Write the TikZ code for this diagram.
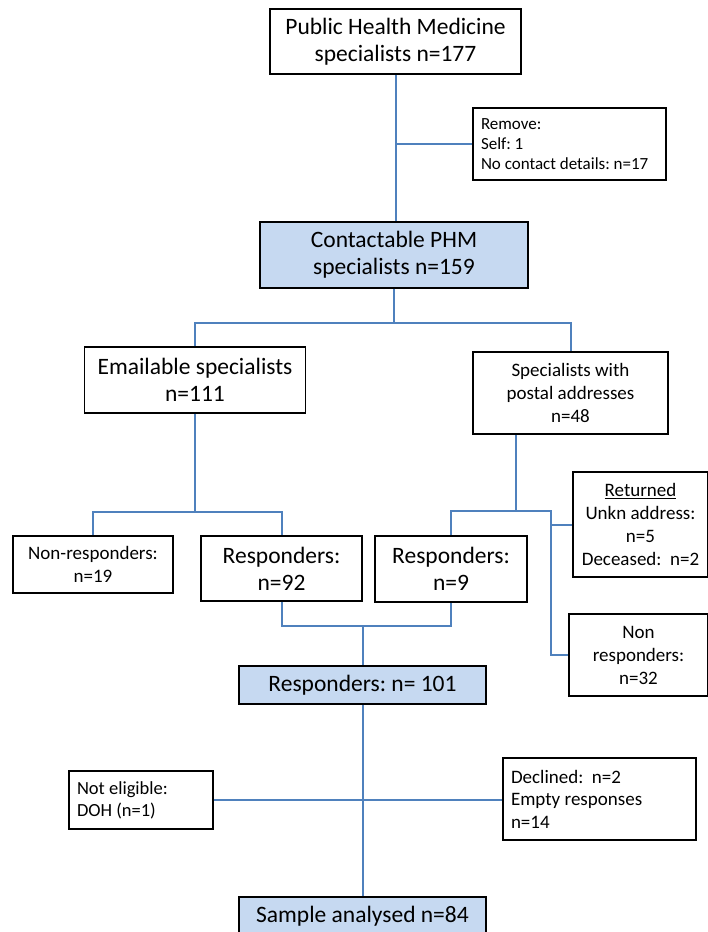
\documentclass[tikz,border=0pt]{standalone}
\usepackage{fontspec}
\setmainfont{Carlito}
\usetikzlibrary{positioning}

\definecolor{phmfill}{HTML}{C6D9F1}
\definecolor{linkblue}{HTML}{4F81BD}

\tikzset{
  box/.style={draw=black, line width=1.8pt, inner sep=0pt, align=center,
    font=\fontsize{23.5}{27}\selectfont},
  bluebox/.style={box, fill=phmfill},
  midbox/.style={box, font=\fontsize{19}{23}\selectfont},
  leftbox/.style={box, align=flush left, inner xsep=8pt},
  link/.style={draw=linkblue, line width=2pt}
}

\begin{document}
\frenchspacing
\begin{tikzpicture}[x=1pt,y=-1pt]
  \useasboundingbox (0,0) rectangle (708,932);
  \clip (0,0) rectangle (708,932);

  % sampling frame
  \node[box, minimum width=251pt, minimum height=65pt] (phm) at (395.5,41.5)
    {Public Health Medicine\\specialists n=177};
  \node[leftbox, text width=177pt, minimum height=72pt,
    font=\fontsize{17}{20}\selectfont] (rem) at (569.5,144)
    {Remove:\\Self: 1\\No contact details: n=17};
  \node[bluebox, minimum width=268pt, minimum height=66pt] (cont) at (394,255)
    {Contactable PHM\\specialists n=159};

  % two survey routes
  \node[box, minimum width=221pt, minimum height=66pt] (email) at (195,380)
    {Emailable specialists\\n=111};
  \node[midbox, minimum width=195pt, minimum height=82pt] (postal) at (570.5,393)
    {Specialists with\\postal addresses\\n=48};

  \node[midbox, minimum width=160pt, minimum height=57pt] (nonr19) at (93,564.5)
    {Non-responders:\\n=19};
  \node[box, minimum width=161pt, minimum height=65pt] (r92) at (281.5,568.5)
    {Responders:\\n=92};
  \node[box, minimum width=152pt, minimum height=66pt] (r9) at (451,569)
    {Responders:\\n=9};
  \node[midbox, minimum width=135pt, minimum height=105pt] (ret) at (640.5,524.5)
    {\underline{Returned}\\Unkn address:\\n=5\\Deceased:\ \ n=2};
  \node[midbox, minimum width=139pt, minimum height=82pt] (nonr32) at (638.5,655)
    {Non\\responders:\\n=32};

  % final sample
  \node[bluebox, minimum width=247pt, minimum height=38pt] (r101) at (362.5,685)
    {Responders: n= 101};
  \node[leftbox, text width=128pt, minimum height=58pt,
    font=\fontsize{18.5}{22}\selectfont] (noteli) at (141,800)
    {Not eligible:\\DOH (n=1)};
  \node[leftbox, text width=177pt, minimum height=82pt,
    font=\fontsize{19}{22.5}\selectfont] (decl) at (599.5,799)
    {Declined:\ \ n=2\\Empty responses\\n=14};
  \node[bluebox, minimum width=247pt, minimum height=38pt] (sample) at (362.5,916)
    {Sample analysed n=84};

  % connectors
  \coordinate (bus1) at (394,323);
  \coordinate (bus2) at (195,512);
  \coordinate (pdrop) at (516,511);
  \coordinate (psplit) at (551,511);
  \coordinate (bus3) at (362.5,626);

  \draw[link] (phm.south) -- (phm.south |- cont.north);
  \draw[link] (phm.south |- rem.west) -- (rem.west);
  \draw[link] (cont.south) -- (bus1);
  \draw[link] (email.north) |- (bus1) -| (postal.north);
  \draw[link] (email.south) -- (bus2);
  \draw[link] (nonr19.north) |- (bus2) -| (r92.north);
  \draw[link] (postal.south -| pdrop) -- (pdrop);
  \draw[link] (r9.north) |- (pdrop) -- (psplit) |- (nonr32.west);
  \draw[link] (psplit |- ret.west) -- (ret.west);
  \draw[link] (r92.south) |- (bus3) -| (r9.south);
  \draw[link] (bus3) -- (r101.north);
  \draw[link] (r101.south) -- (sample.north);
  \draw[link] (noteli.east) -- (noteli.east -| decl.west);
\end{tikzpicture}
\end{document}
